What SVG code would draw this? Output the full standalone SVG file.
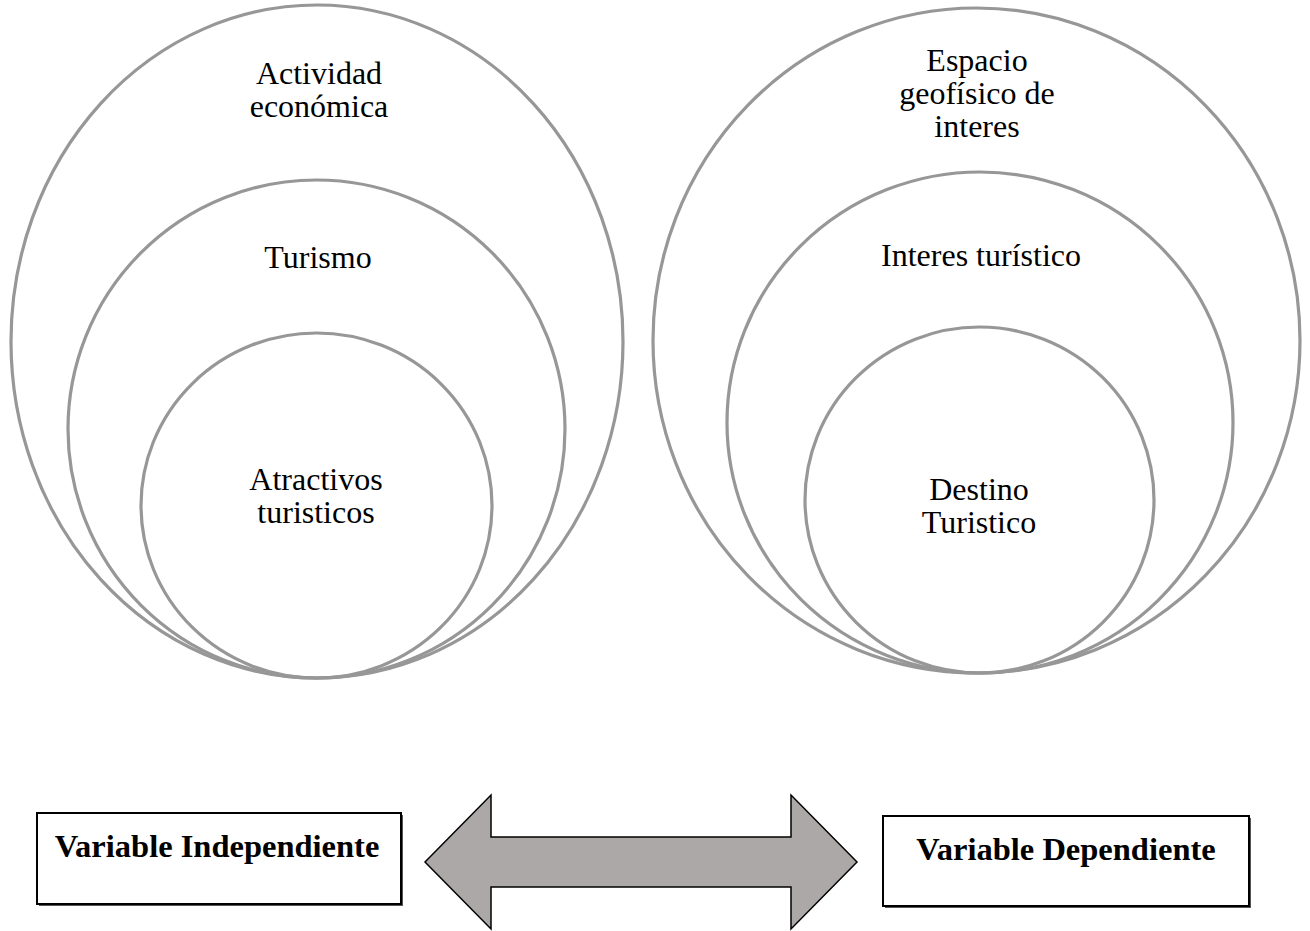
<svg xmlns="http://www.w3.org/2000/svg" width="1310" height="931" viewBox="0 0 1310 931">
  <style>
    .ring { fill: none; stroke: #979797; stroke-width: 3.2; }
    .lbl { font-family: "Liberation Serif", "Times New Roman", serif; font-size: 32px; fill: #000; text-anchor: middle; }
    .box { fill: #ffffff; stroke: #000; stroke-width: 2; }
    .shadow { fill: #555; }
    .boxlbl { font-family: "Liberation Serif", "Times New Roman", serif; font-size: 32.5px; font-weight: bold; fill: #000; text-anchor: middle; }
    .arrow { fill: #aba8a7; stroke: #000; stroke-width: 1.5; stroke-linejoin: miter; }
  </style>
  <rect width="1310" height="931" fill="#ffffff"/>

  <!-- left nested set -->
  <g id="actividad-economica">
    <ellipse class="ring" cx="317" cy="341.5" rx="306" ry="336.5"/>
    <text class="lbl" x="319" y="84">Actividad</text>
    <text class="lbl" x="319" y="117">económica</text>
  </g>
  <g id="turismo">
    <ellipse class="ring" cx="316.5" cy="429" rx="248.5" ry="249"/>
    <text class="lbl" x="318" y="268">Turismo</text>
  </g>
  <g id="atractivos-turisticos">
    <ellipse class="ring" cx="316.5" cy="505.5" rx="175.5" ry="172.5"/>
    <text class="lbl" x="316" y="490">Atractivos</text>
    <text class="lbl" x="316" y="523">turisticos</text>
  </g>

  <!-- right nested set -->
  <g id="espacio-geofisico">
    <ellipse class="ring" cx="976.5" cy="340.5" rx="323.5" ry="332.5"/>
    <text class="lbl" x="977" y="71">Espacio</text>
    <text class="lbl" x="977" y="104">geofísico de</text>
    <text class="lbl" x="977" y="137">interes</text>
  </g>
  <g id="interes-turistico">
    <ellipse class="ring" cx="980" cy="422.5" rx="253" ry="250.5"/>
    <text class="lbl" x="981" y="266">Interes turístico</text>
  </g>
  <g id="destino-turistico">
    <ellipse class="ring" cx="979.5" cy="500" rx="174.5" ry="173"/>
    <text class="lbl" x="979" y="500">Destino</text>
    <text class="lbl" x="979" y="533">Turistico</text>
  </g>

  <!-- variable boxes -->
  <g id="variable-independiente">
    <rect class="shadow" x="39" y="815" width="364" height="91"/>
    <rect class="box" x="37" y="813" width="364" height="91"/>
    <text class="boxlbl" x="217" y="857">Variable Independiente</text>
  </g>
  <g id="variable-dependiente">
    <rect class="shadow" x="885" y="818" width="366" height="90"/>
    <rect class="box" x="883" y="816" width="366" height="90"/>
    <text class="boxlbl" x="1066" y="860">Variable Dependiente</text>
  </g>

  <!-- connectors -->
  <g id="connectors">
    <polygon class="arrow" points="425,862 491,795 491,837 791,837 791,795 857,862 791,929 791,887 491,887 491,929"/>
  </g>
</svg>
